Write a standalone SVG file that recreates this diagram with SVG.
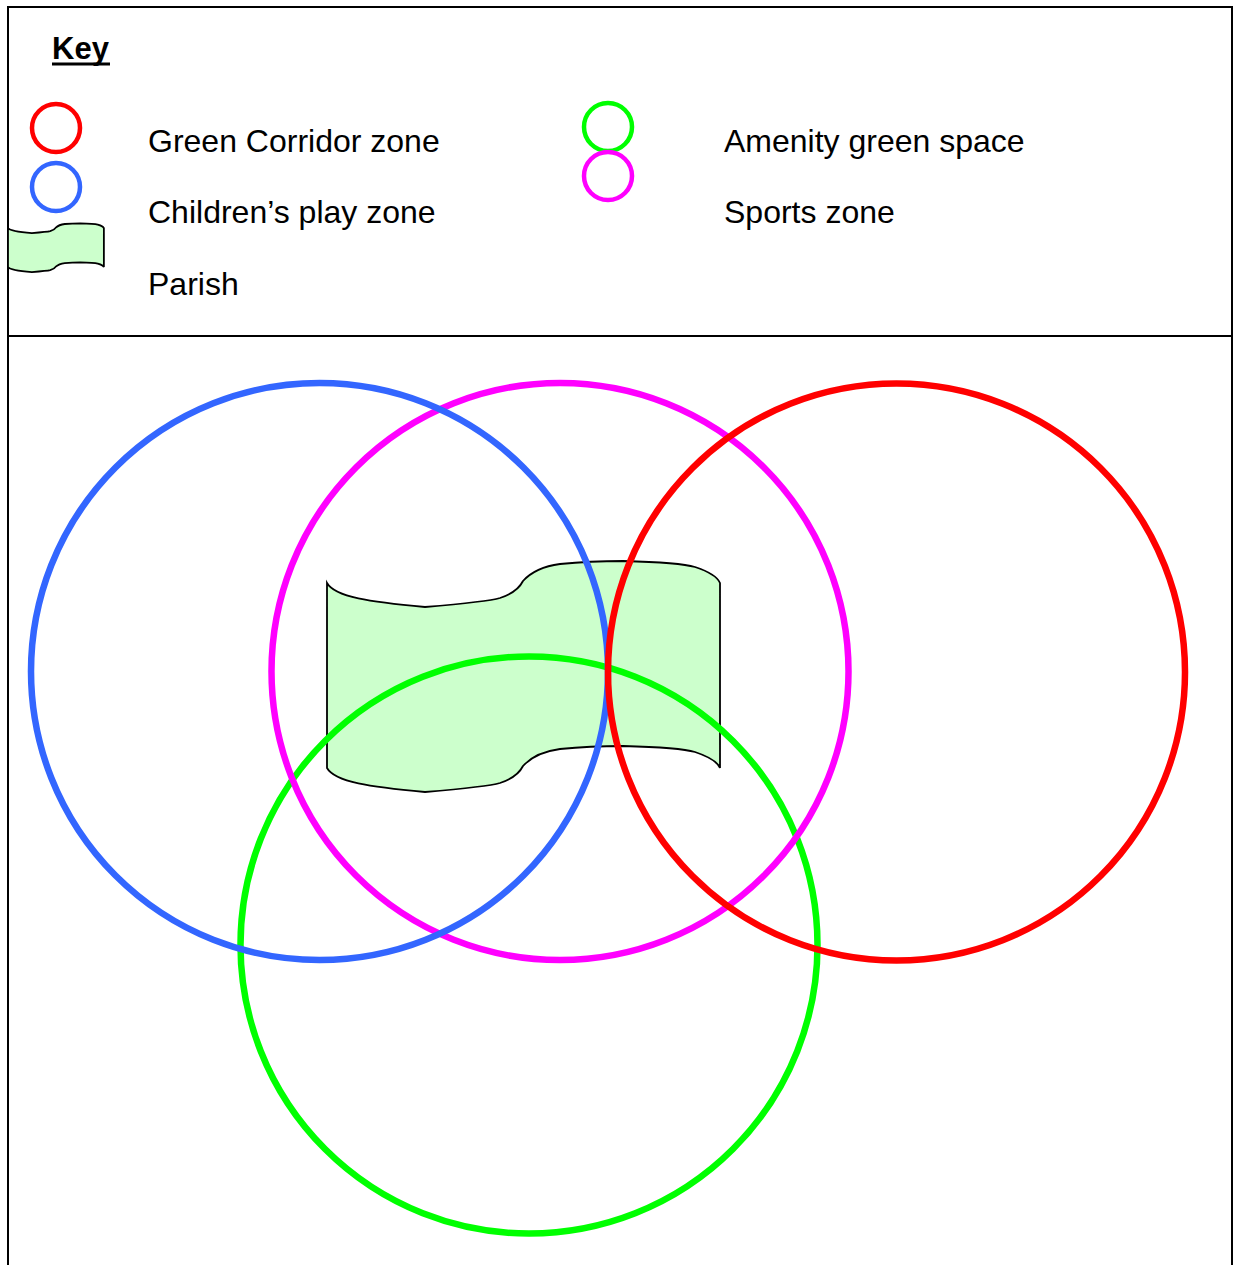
<svg xmlns="http://www.w3.org/2000/svg" width="1234" height="1265" viewBox="0 0 1234 1265">
<style>
.lbl{font-family:"Liberation Sans",Arial,sans-serif;font-size:32px;fill:#000}
.key{font-family:"Liberation Sans",Arial,sans-serif;font-size:31px;font-weight:bold;fill:#000}
.frame{fill:none;stroke:#000;stroke-width:2}
.zone{fill:none;stroke-width:6.5}
.kz{fill:none;stroke-width:4.5}
.parish{fill:#CCFFCC;stroke:#000;stroke-width:1.8}
</style>
<defs>
<path id="parishShape" vector-effect="non-scaling-stroke" d="M327,583 C335,597 370,602 425,607 C460,604 490,601 500,598 C515,593 520,587 523,581 C533,570 545,566 560,564 C590,561 610,561 623,561 C660,562 685,564 695,567 C710,572 718,578 720,583 L720,768 C718,763 710,757 695,752 C685,749 660,747 623,746 C610,746 590,746 560,749 C545,751 533,755 523,766 C520,772 515,778 500,783 C490,786 460,789 425,792 C370,787 335,782 327,768 Z"/>
</defs>
<rect width="1234" height="1265" fill="#fff"/>
<g id="key">
<rect class="frame" x="8" y="7" width="1224" height="329"/>
<text class="key" x="52" y="59">Key</text>
<line x1="52" y1="64" x2="110" y2="64" stroke="#000" stroke-width="3"/>
<g id="key-green-corridor"><circle class="kz" cx="56" cy="128" r="24" stroke="#FF0000"/><text class="lbl" x="148" y="152">Green Corridor zone</text></g>
<g id="key-childrens-play"><circle class="kz" cx="56" cy="187" r="24" stroke="#3366FF"/><text class="lbl" x="148" y="223">Children’s play zone</text></g>
<g id="key-parish"><use href="#parishShape" class="parish" transform="matrix(0.244 0 0 0.211 -71.8 105)"/><text class="lbl" x="148" y="295">Parish</text></g>
<g id="key-amenity"><circle class="kz" cx="608" cy="127" r="24" stroke="#00FF00"/><text class="lbl" x="724" y="152">Amenity green space</text></g>
<g id="key-sports"><circle class="kz" cx="608" cy="176" r="24" stroke="#FF00FF"/><text class="lbl" x="724" y="223">Sports zone</text></g>
</g>
<g id="map">
<rect class="frame" x="8" y="336" width="1224" height="940"/>
<g id="parish"><use href="#parishShape" class="parish"/></g>
<g id="amenity-green-space"><circle class="zone" cx="529" cy="945" r="288.5" stroke="#00FF00"/></g>
<g id="sports-zone"><circle class="zone" cx="560" cy="671.5" r="288.5" stroke="#FF00FF"/></g>
<g id="childrens-play-zone"><circle class="zone" cx="319.5" cy="671.5" r="288.5" stroke="#3366FF"/></g>
<g id="green-corridor-zone"><circle class="zone" cx="896.5" cy="672" r="288.5" stroke="#FF0000"/></g>
</g>
<g id="connectors"/>
</svg>
